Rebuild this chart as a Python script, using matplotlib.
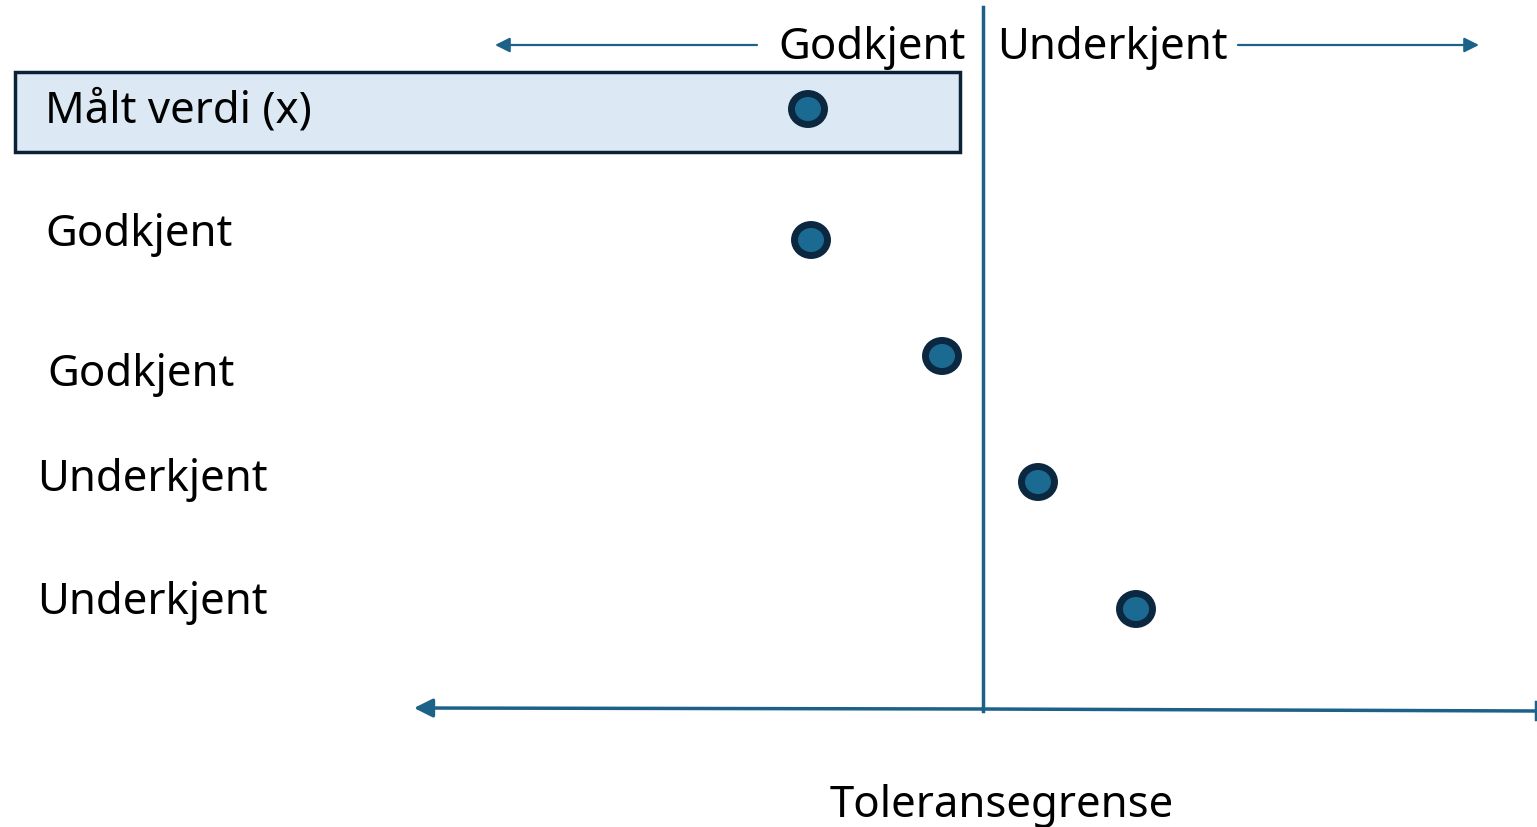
import matplotlib
matplotlib.use("Agg")
import matplotlib.pyplot as plt
from matplotlib.patches import Ellipse, Rectangle

# data (pixel-like coordinates)
row_labels = ["Målt verdi (x)", "Godkjent", "Godkjent", "Underkjent", "Underkjent"]
label_x = [45, 45, 47, 37, 37]
label_y = [108, 232, 372, 477, 600]
point_x = [808, 811, 942, 1038, 1136]
point_y = [110, 241, 357, 483, 610]
limit_x = 983
top_labels = ["Godkjent", "Underkjent"]
axis_label = "Toleransegrense"

line_col = "#1b6188"
dark = "#0c2740"
fill = "#1b6a92"

plt.rcParams["font.family"] = ["Noto Sans", "DejaVu Sans"]
fig = plt.figure(figsize=(15.37, 8.28), dpi=100)
ax = fig.add_axes([0, 0, 1, 1])
ax.set_xlim(0, 1537)
ax.set_ylim(828, 0)
ax.axis("off")

# highlighted first row
ax.add_patch(Rectangle((15, 73), 945, 80, facecolor="#dce9f5",
                       edgecolor="#0b2236", linewidth=2.5, zorder=1))

# tolerance limit line
ax.plot([limit_x, limit_x], [8, 712], color=line_col, lw=2.5, zorder=2)

# bottom axis
ax.annotate("", xy=(414, 709), xytext=(limit_x, 710),
            arrowprops=dict(arrowstyle="-|>", color=line_col, lw=2.5,
                            mutation_scale=28, shrinkA=0, shrinkB=0))
ax.plot([limit_x, 1536], [710, 712], color=line_col, lw=2.5)
ax.plot([1536, 1536], [703, 720], color=line_col, lw=2.5)

# top arrows
ax.annotate("", xy=(495, 46), xytext=(757, 46),
            arrowprops=dict(arrowstyle="-|>", color=line_col, lw=1.6,
                            mutation_scale=22, shrinkA=0, shrinkB=0))
ax.annotate("", xy=(1479, 46), xytext=(1238, 46),
            arrowprops=dict(arrowstyle="-|>", color=line_col, lw=1.6,
                            mutation_scale=22, shrinkA=0, shrinkB=0))

fs = 31.5
dy = 3
ax.text(966, 45 + dy, top_labels[0], ha="right", va="center", fontsize=fs)
ax.text(997, 45 + dy, top_labels[1], ha="left", va="center", fontsize=fs)

for lab, lx, ly in zip(row_labels, label_x, label_y):
    ax.text(lx, ly + dy, lab, ha="left", va="center", fontsize=fs)

for px, py in zip(point_x, point_y):
    ax.add_patch(Ellipse((px, py), 33, 31, facecolor=fill, edgecolor=dark,
                         linewidth=5, zorder=3))

ax.text(1002, 803 + dy, axis_label, ha="center", va="center", fontsize=fs)

fig.savefig("out.png", dpi=100)
